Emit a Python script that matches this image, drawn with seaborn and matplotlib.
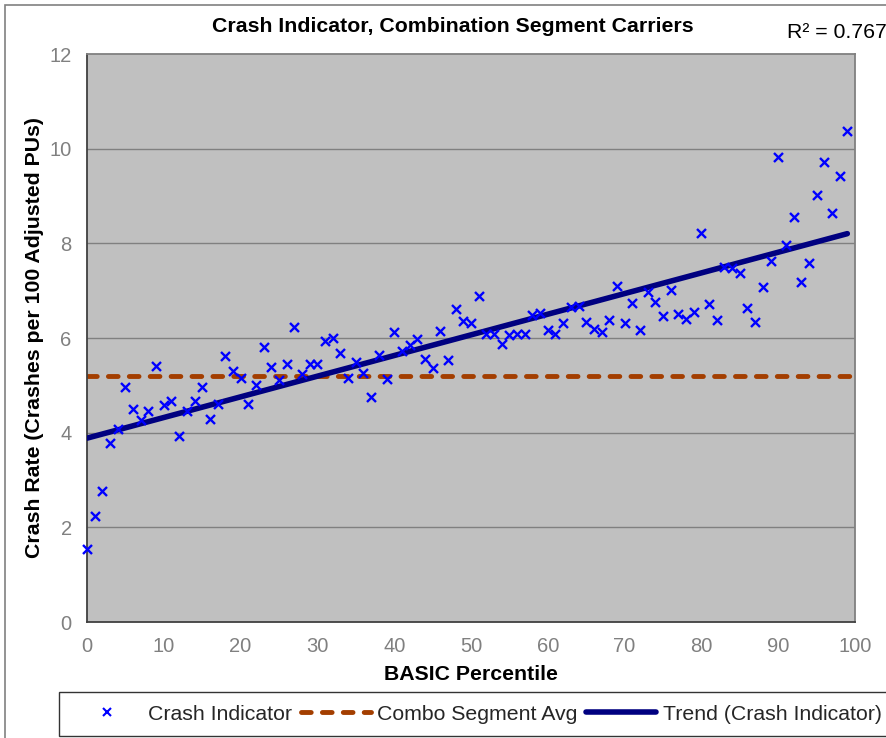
import numpy as np
import pandas as pd
import matplotlib
matplotlib.use("Agg")
import matplotlib.pyplot as plt
from matplotlib.patches import Rectangle
from matplotlib.lines import Line2D
import seaborn as sns

percentile = list(range(100))
crash_rate = [1.54, 2.24, 2.77, 3.78, 4.08, 4.97, 4.50, 4.27, 4.46, 5.41,
              4.58, 4.67, 3.93, 4.46, 4.67, 4.97, 4.29, 4.61, 5.62, 5.30,
              5.16, 4.61, 5.01, 5.81, 5.39, 5.11, 5.45, 6.23, 5.24, 5.45,
              5.45, 5.94, 6.00, 5.68, 5.16, 5.49, 5.26, 4.75, 5.64, 5.13,
              6.13, 5.73, 5.85, 5.98, 5.56, 5.37, 6.15, 5.54, 6.61, 6.36,
              6.32, 6.89, 6.08, 6.08, 5.87, 6.06, 6.08, 6.08, 6.49, 6.53,
              6.17, 6.08, 6.32, 6.66, 6.68, 6.34, 6.19, 6.13, 6.38, 7.10,
              6.32, 6.74, 6.17, 6.97, 6.76, 6.47, 7.01, 6.51, 6.40, 6.55,
              8.22, 6.72, 6.38, 7.50, 7.48, 7.37, 6.63, 6.34, 7.08, 7.63,
              9.82, 7.97, 8.56, 7.18, 7.59, 9.02, 9.72, 8.64, 9.42, 10.37]
combo_avg = 5.19
r2_label = "R² = 0.767"
title = "Crash Indicator, Combination Segment Carriers"
xlabel = "BASIC Percentile"
ylabel = "Crash Rate (Crashes per 100 Adjusted PUs)"
x_ticks = [0, 10, 20, 30, 40, 50, 60, 70, 80, 90, 100]
y_ticks = [0, 2, 4, 6, 8, 10, 12]

df = pd.DataFrame({"x": percentile, "y": crash_rate})
slope, intercept = np.polyfit(df["x"], df["y"], 1)
trend = pd.DataFrame({"x": [0, 99], "y": [intercept, intercept + slope * 99]})
avg = pd.DataFrame({"x": [0, 100], "y": [combo_avg, combo_avg]})

sns.set_theme(style="white")
plt.rcParams['font.family'] = ['Liberation Sans', 'DejaVu Sans']

W, H = 886, 738
fig = plt.figure(figsize=(W / 100, H / 100), dpi=100)
fig.patch.set_facecolor("white")
ax = fig.add_axes([87 / W, 1 - 622 / H, (855 - 87) / W, (622 - 54) / H])
ax.set_facecolor("#C0C0C0")

# outer chart border
fig.patches.append(Rectangle((5 / W, -0.01), 1.02, 1 - 5 / H + 0.01, transform=fig.transFigure,
                             fill=False, edgecolor="#808080", linewidth=1.2, zorder=0))

for yv in y_ticks[1:-1]:
    ax.axhline(yv, color="#808080", linewidth=1.0, zorder=1)

sns.lineplot(data=avg, x="x", y="y", ax=ax, color="#A33E00", linewidth=3.5,
             zorder=2, legend=False)
ax.lines[-1].set_dashes([2.0, 2.3])
ax.lines[-1].set_dash_capstyle("round")
sns.lineplot(data=trend, x="x", y="y", ax=ax, color="#000080", linewidth=4,
             zorder=3, legend=False)
ax.lines[-1].set_solid_capstyle("round")
sns.scatterplot(data=df, x="x", y="y", ax=ax, marker="x", color="#0000FF",
                s=42, linewidth=1.7, zorder=4, legend=False, clip_on=False)

ax.set_xlim(0, 100)
ax.set_ylim(0, 12)
ax.set_xticks(x_ticks)
ax.set_yticks(y_ticks)
ax.tick_params(axis="both", direction="out", length=6, width=1.2, color="#404040",
               labelcolor="#808080", labelsize=14.5)
ax.tick_params(axis="x", pad=5)
ax.tick_params(axis="y", pad=5)
for s in ["left", "bottom"]:
    ax.spines[s].set_color("#404040")
    ax.spines[s].set_linewidth(1.3)
for s in ["top", "right"]:
    ax.spines[s].set_color("#808080")
    ax.spines[s].set_linewidth(1.3)

ax.set_xlabel(xlabel, fontsize=15.3, fontweight="bold", color="black", labelpad=6)
ax.set_ylabel(ylabel, fontsize=15.3, fontweight="bold", color="black", labelpad=4)

fig.text(453 / W, 1 - 27 / H, title, ha="center", va="center", fontsize=15.3,
         fontweight="bold", color="black")
fig.text(887 / W, 1 - 33 / H, r2_label, ha="right", va="center", fontsize=15.3, color="black")

handles = [
    Line2D([], [], linestyle="none", marker="x", color="#0000FF", markersize=6, markeredgewidth=1.5),
    Line2D([], [], color="#A33E00", linewidth=3.5, dashes=[2.0, 2.3], dash_capstyle="round"),
    Line2D([], [], color="#000080", linewidth=4),
]
labels = ["Crash Indicator", "Combo Segment Avg", "Trend (Crash Indicator)"]
leg = fig.legend(handles, labels, loc="center left", bbox_to_anchor=(59 / W, 1 - 714 / H),
                 ncol=3, frameon=True, fancybox=False, edgecolor="black",
                 fontsize=15.3, handlelength=3.3, handletextpad=0.3, columnspacing=0.4,
                 borderpad=0.6, borderaxespad=0)
leg.get_frame().set_linewidth(1.0)

fig.savefig("out.png", dpi=100)
